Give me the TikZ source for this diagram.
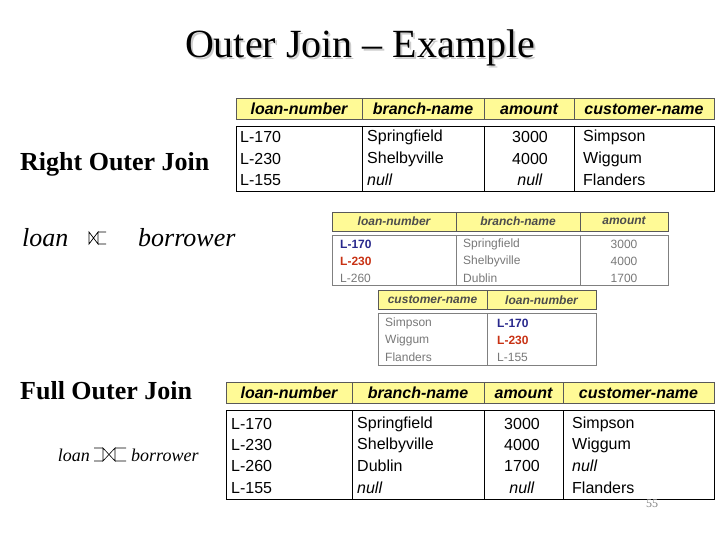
\documentclass[tikz,border=0pt]{standalone}
\usepackage{fontspec}
\setmainfont{Liberation Serif}
\setsansfont{Liberation Sans}
\usepackage{xcolor}
\definecolor{headyellow}{RGB}{255,250,150}
\definecolor{lightgray}{RGB}{120,120,120}
\definecolor{darkblue}{RGB}{40,40,140}
\definecolor{darkred}{RGB}{200,50,20}
\tikzset{
  headcell/.style={draw=gray!70!black, fill=headyellow, line width=0.8pt},
  bodycell/.style={draw=black, line width=0.8pt},
  smallcell/.style={draw=gray, line width=0.8pt},
  bigtext/.style={font=\sffamily\fontsize{16}{18}\selectfont, inner sep=0pt},
  bighead/.style={font=\sffamily\bfseries\itshape\fontsize{16}{18}\selectfont, inner sep=0pt},
  smalltext/.style={font=\sffamily\fontsize{12}{14}\selectfont, inner sep=0pt, text=lightgray},
  smallhead/.style={font=\sffamily\bfseries\itshape\fontsize{12}{14}\selectfont, inner sep=0pt, text=black!70},
  caption/.style={font=\bfseries\fontsize{26}{28}\selectfont, inner sep=0pt, anchor=west},
  relname/.style={font=\itshape\fontsize{26}{28}\selectfont, inner sep=0pt, anchor=west}
}
\begin{document}
\begin{tikzpicture}[x=1pt,y=-1pt]
\useasboundingbox (0,0) rectangle (720,540);

% title
\node[font=\fontsize{40}{42}\selectfont, inner sep=0pt] (title) at (360,48)
  {\rlap{\raisebox{-2pt}[0pt][0pt]{\kern2pt\textcolor{gray!40}{Outer Join -- Example}}}Outer Join -- Example};

% right outer join result
\foreach \a/\b/\t/\n in {236/362/loan-number/ra, 362/484/branch-name/rb, 484/574/amount/rc, 574/714/customer-name/rd}
  {\draw[headcell] (\a,98) rectangle (\b,119);
   \node[bighead] (\n) at ({(\a+\b)/2},109) {\t};}
\draw[bodycell] (236,126) rectangle (714,191);
\foreach \x in {362,484,574} \draw[bodycell] (\x,126) -- (\x,191);
\foreach \y/\p/\q/\r/\s [count=\i] in {137/L-170/Springfield/3000/Simpson, 159/L-230/Shelbyville/4000/Wiggum, 180/L-155/\textit{null}/\textit{null}/Flanders}
  {\node[bigtext, anchor=west] (rp\i) at (240,\y) {\p};
   \node[bigtext, anchor=west] (rq\i) at (367,\y) {\q};
   \node[bigtext] (rr\i) at (530,\y) {\r};
   \node[bigtext, anchor=west] (rs\i) at (583,\y) {\s};}

\node[caption] (rcap) at (20,164) {Right Outer Join};
\node[relname] (rloan) at (22,238) {loan};
\node[relname] (rborrow) at (138,238) {borrower};
\draw[line width=0.7pt] (89,232) -- (89,244) -- (98,232) -- (98,244) -- cycle
  (98,232) -- (106,232) (98,244) -- (106,244);

% loan relation
\foreach \a/\b/\t/\n in {332/456/loan-number/la, 456/580/branch-name/lb, 580/668/amount/lc}
  {\draw[headcell] (\a,212) rectangle (\b,231);
   \node[smallhead] (\n) at ({(\a+\b)/2},221) {\t};}
\draw[smallcell] (332,235) rectangle (668,285);
\foreach \x in {456,580} \draw[smallcell] (\x,235) -- (\x,285);
\foreach \y/\p/\q/\r [count=\i] in {244/{\textcolor{darkblue}{\textbf{L-170}}}/Springfield/3000, 261/{\textcolor{darkred}{\textbf{L-230}}}/Shelbyville/4000, 278/L-260/Dublin/1700}
  {\node[smalltext, anchor=west] (lp\i) at (340,\y) {\p};
   \node[smalltext, anchor=west] (lq\i) at (463,\y) {\q};
   \node[smalltext] (lr\i) at (624,\y) {\r};}

% borrower relation
\foreach \a/\b/\t/\n in {378/487/customer-name/ba, 487/596/loan-number/bb}
  {\draw[headcell] (\a,290) rectangle (\b,309);
   \node[smallhead] (\n) at ({(\a+\b)/2},300) {\t};}
\draw[smallcell] (378,313) rectangle (596,365);
\draw[smallcell] (487,313) -- (487,365);
\foreach \y/\p/\q [count=\i] in {323/Simpson/{\textcolor{darkblue}{\textbf{L-170}}}, 340/Wiggum/{\textcolor{darkred}{\textbf{L-230}}}, 357/Flanders/L-155}
  {\node[smalltext, anchor=west] (bp\i) at (385,\y) {\p};
   \node[smalltext, anchor=west] (bq\i) at (497,\y) {\q};}

% full outer join result
\foreach \a/\b/\t/\n in {226/352/loan-number/fa, 352/484/branch-name/fb, 484/563/amount/fc, 563/714/customer-name/fd}
  {\draw[headcell] (\a,382) rectangle (\b,403);
   \node[bighead] (\n) at ({(\a+\b)/2},393) {\t};}
\draw[bodycell] (226,410) rectangle (714,499);
\foreach \x in {352,484,563} \draw[bodycell] (\x,410) -- (\x,499);
\foreach \y/\p/\q/\r/\s [count=\i] in {424/L-170/Springfield/3000/Simpson, 445/L-230/Shelbyville/4000/Wiggum, 466/L-260/Dublin/1700/\textit{null}, 488/L-155/\textit{null}/\textit{null}/Flanders}
  {\node[bigtext, anchor=west] (fp\i) at (231,\y) {\p};
   \node[bigtext, anchor=west] (fq\i) at (357,\y) {\q};
   \node[bigtext] (fr\i) at (522,\y) {\r};
   \node[bigtext, anchor=west] (fs\i) at (572,\y) {\s};}

\node[caption] (fcap) at (20,391) {Full Outer Join};
\node[font=\itshape\fontsize{18}{20}\selectfont, inner sep=0pt, anchor=east] (floan) at (90,455) {loan};
\node[font=\itshape\fontsize{18}{20}\selectfont, inner sep=0pt, anchor=west] (fborrow) at (131,455) {borrower};
\draw[line width=0.6pt] (103,448) -- (103,461) -- (115,448) -- (115,461) -- cycle
  (103,448) -- (94,448) (103,461) -- (94,461)
  (115,448) -- (126,448) (115,461) -- (126,461);

\node[font=\fontsize{12}{14}\selectfont, text=gray, inner sep=0pt] (pagenum) at (652,504) {55};
\end{tikzpicture}
\end{document}
